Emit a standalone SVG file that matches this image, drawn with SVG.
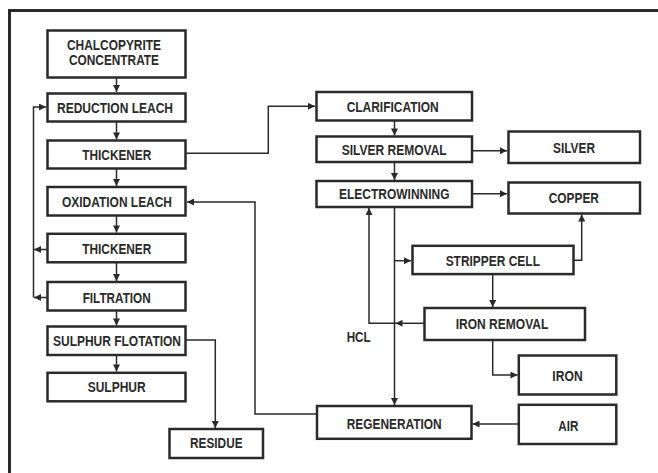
<svg xmlns="http://www.w3.org/2000/svg" width="658" height="473" viewBox="0 0 658 473">
<defs>
<marker id="ah" viewBox="0 0 10 10" refX="10" refY="5" markerWidth="8" markerHeight="7" markerUnits="userSpaceOnUse" orient="auto">
<path d="M0,0 L10,5 L0,10 z" fill="#2a2a2a"/>
</marker>
<style>
.box{fill:#fff;stroke:#2a2a2a;stroke-width:2.5}
.t{font-family:"Liberation Sans",Arial,sans-serif;font-weight:bold;font-size:14px;fill:#2a2a2a;text-anchor:middle}
.c{fill:none;stroke:#2a2a2a;stroke-width:1.5}
.a{marker-end:url(#ah)}
</style>
</defs>
<rect width="658" height="473" fill="#fff"/>
<path d="M9.5,473 V10.5 H658" fill="none" stroke="#2a2a2a" stroke-width="3"/>

<g id="connectors">
<path class="c a" d="M116.5,78 V92"/>
<path class="c a" d="M116.5,122 V139.5"/>
<path class="c a" d="M116.5,169 V186"/>
<path class="c a" d="M116.5,216 V232.5"/>
<path class="c a" d="M116.5,263 V281"/>
<path class="c a" d="M116.5,311 V325.5"/>
<path class="c a" d="M116.5,355.5 V371.5"/>
<path class="c a" d="M33.5,297.5 V107 H46"/>
<path class="c a" d="M47,249.5 H34"/>
<path class="c a" d="M47,297.5 H34"/>
<path class="c a" d="M186,153.3 H268.3 V106.3 H315"/>
<path class="c a" d="M317,414 H255 V202 H187"/>
<path class="c a" d="M186,340 H215.3 V428"/>
<path class="c a" d="M394.5,120.7 V135.5"/>
<path class="c a" d="M394.5,162.3 V180"/>
<path class="c a" d="M472,150.7 H507"/>
<path class="c a" d="M472,193.7 H507"/>
<path class="c a" d="M394.5,207.3 V405"/>
<path class="c a" d="M394.5,260.7 H411"/>
<path class="c a" d="M573.7,260.3 H581.7 V214.5"/>
<path class="c a" d="M492.7,274.3 V307"/>
<path class="c a" d="M424,323.3 H395.5"/>
<path class="c a" d="M396,323.3 H369 V208"/>
<path class="c a" d="M492.7,340.3 V375 H517.5"/>
<path class="c a" d="M518.3,424 H472.5"/>
</g>

<g id="chalcopyrite"><rect class="box" x="47.5" y="30.5" width="138" height="47"/><text class="t" x="114" y="50.3" textLength="94" lengthAdjust="spacingAndGlyphs">CHALCOPYRITE</text><text class="t" x="114" y="65.3" textLength="90" lengthAdjust="spacingAndGlyphs">CONCENTRATE</text></g>
<g id="reduction-leach"><rect class="box" x="47.5" y="93.5" width="138" height="28"/><text class="t" x="115" y="112.9" textLength="116" lengthAdjust="spacingAndGlyphs">REDUCTION LEACH</text></g>
<g id="thickener1"><rect class="box" x="47.5" y="140.5" width="138" height="28"/><text class="t" x="116.8" y="160.2" textLength="69" lengthAdjust="spacingAndGlyphs">THICKENER</text></g>
<g id="oxidation-leach"><rect class="box" x="47.5" y="187" width="138" height="28.5"/><text class="t" x="117" y="206.9" textLength="110" lengthAdjust="spacingAndGlyphs">OXIDATION LEACH</text></g>
<g id="thickener2"><rect class="box" x="47.5" y="233.8" width="138" height="28.5"/><text class="t" x="116.8" y="254.2" textLength="69" lengthAdjust="spacingAndGlyphs">THICKENER</text></g>
<g id="filtration"><rect class="box" x="47.5" y="282" width="138" height="28.5"/><text class="t" x="116.7" y="302.5" textLength="68" lengthAdjust="spacingAndGlyphs">FILTRATION</text></g>
<g id="sulphur-flotation"><rect class="box" x="47.5" y="326.5" width="138" height="28.5"/><text class="t" x="117" y="345.9" textLength="128" lengthAdjust="spacingAndGlyphs">SULPHUR FLOTATION</text></g>
<g id="sulphur"><rect class="box" x="47.5" y="372.8" width="138" height="28.5"/><text class="t" x="116.7" y="392.2" textLength="58" lengthAdjust="spacingAndGlyphs">SULPHUR</text></g>
<g id="residue"><rect class="box" x="169.5" y="429" width="93.5" height="29"/><text class="t" x="216.3" y="447.5" textLength="52.5" lengthAdjust="spacingAndGlyphs">RESIDUE</text></g>

<g id="clarification"><rect class="box" x="316.5" y="92" width="155.5" height="28.5"/><text class="t" x="392.7" y="112.2" textLength="92" lengthAdjust="spacingAndGlyphs">CLARIFICATION</text></g>
<g id="silver-removal"><rect class="box" x="316.5" y="136.5" width="155.5" height="25.5"/><text class="t" x="394.2" y="154.9" textLength="105" lengthAdjust="spacingAndGlyphs">SILVER REMOVAL</text></g>
<g id="electrowinning"><rect class="box" x="316.5" y="181" width="155.5" height="26"/><text class="t" x="394.3" y="199.2" textLength="110.5" lengthAdjust="spacingAndGlyphs">ELECTROWINNING</text></g>
<g id="silver"><rect class="box" x="508.5" y="131.5" width="131.5" height="31.5"/><text class="t" x="574" y="153.2" textLength="42" lengthAdjust="spacingAndGlyphs">SILVER</text></g>
<g id="copper"><rect class="box" x="508.5" y="182.5" width="131.5" height="31"/><text class="t" x="573.8" y="202.9" textLength="50.3" lengthAdjust="spacingAndGlyphs">COPPER</text></g>
<g id="stripper-cell"><rect class="box" x="412.5" y="245.8" width="161" height="28.3"/><text class="t" x="492.8" y="265.9" textLength="94.3" lengthAdjust="spacingAndGlyphs">STRIPPER CELL</text></g>
<g id="iron-removal"><rect class="box" x="424.5" y="308" width="160.5" height="32"/><text class="t" x="502" y="329.2" textLength="92.6" lengthAdjust="spacingAndGlyphs">IRON REMOVAL</text></g>
<g id="iron"><rect class="box" x="518.8" y="355.5" width="97.5" height="39"/><text class="t" x="567.5" y="380.9" textLength="30.3" lengthAdjust="spacingAndGlyphs">IRON</text></g>
<g id="regeneration"><rect class="box" x="317" y="406" width="154.5" height="32.8"/><text class="t" x="394.2" y="428.5" textLength="95" lengthAdjust="spacingAndGlyphs">REGENERATION</text></g>
<g id="air"><rect class="box" x="518.8" y="404.8" width="97.5" height="39.2"/><text class="t" x="568.3" y="430.9" textLength="20" lengthAdjust="spacingAndGlyphs">AIR</text></g>
<g id="hcl-label"><text class="t" x="358.7" y="341.9" textLength="24" lengthAdjust="spacingAndGlyphs">HCL</text></g>
</svg>
